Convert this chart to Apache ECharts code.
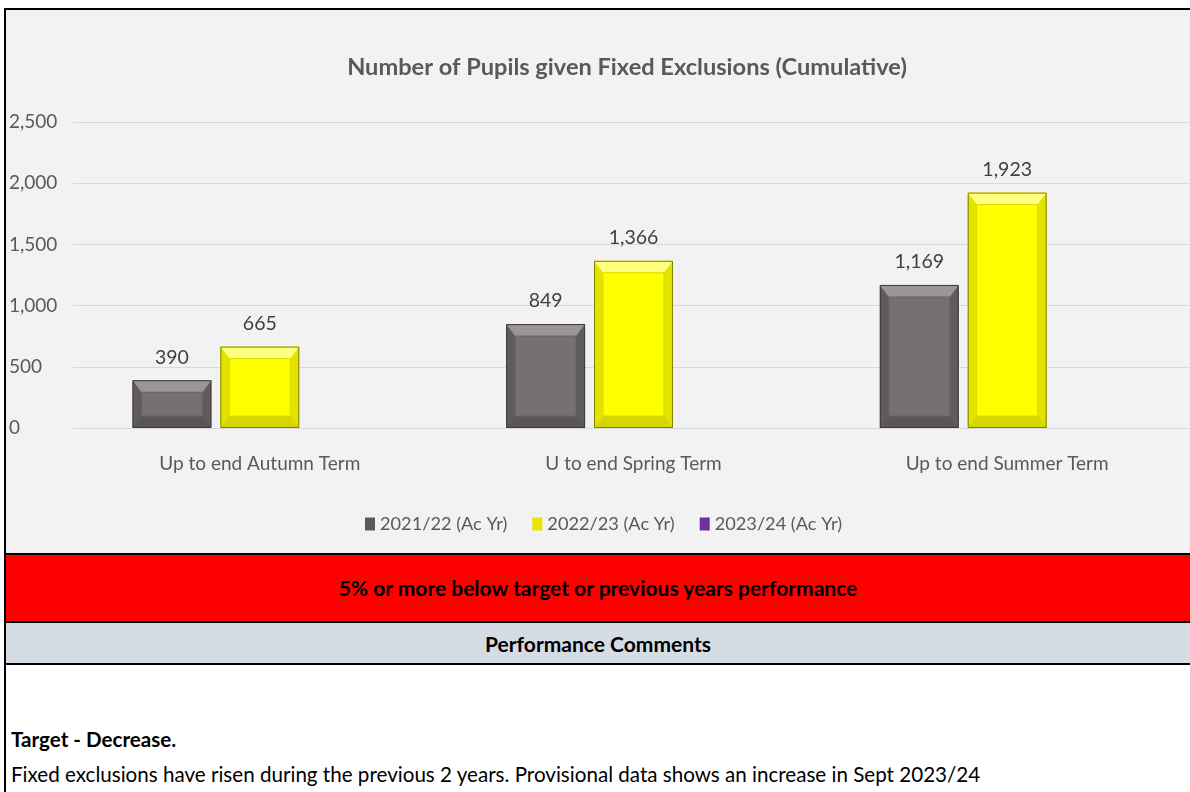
<!DOCTYPE html>
<html>
<head>
<meta charset="utf-8">
<script src="https://cdn.jsdelivr.net/npm/echarts@6/dist/echarts.min.js"></script>
<style>
	body { margin: 0; background: #fff; font-family: Lato, sans-serif; }
	#wrap { position: absolute; left: 4px; top: 8px; width: 1200px; height: 800px; border-left: 2px solid #000; border-top: 2px solid #000; }
	#chart { width: 1190px; height: 543px; background: #f2f2f2; }
	.red { border-top: 2px solid #000; height: 66px; background: #ff0000; color: #000; font-weight: bold; font-size: 21px; line-height: 66px; text-align: center; padding-right: 16px; }
	.grey { border-top: 2px solid #000; border-bottom: 2px solid #000; height: 40px; background: #d6dce4; color: #000; font-weight: bold; font-size: 21px; line-height: 42px; text-align: center; padding-right: 16px; }
	.note { position: absolute; left: 5px; font-size: 20.6px; color: #000; white-space: nowrap; }
</style>
</head>
<body>
<div id="wrap">
	<div id="chart"></div>
	<div class="red">5% or more below target or previous years performance</div>
	<div class="grey">Performance Comments</div>
	<div class="note" style="top:717px;font-weight:bold;">Target - Decrease.</div>
	<div class="note" style="top:752px;">Fixed exclusions have risen during the previous 2 years. Provisional data shows an increase in Sept 2023/24</div>
</div>
<script>
	var categories = ['Up to end Autumn Term', 'U to end Spring Term', 'Up to end Summer Term'];
	var years = ['2021/22 (Ac Yr)', '2022/23 (Ac Yr)', '2023/24 (Ac Yr)'];
	var values2122 = [390, 849, 1169];
	var values2223 = [665, 1366, 1923];
	var values2324 = [];
	var yMax = 2500;
	var yStep = 500;

	var font = 'Lato';
	// 斜面效果的配色
	var palettes = [
		{ edge: '#3b3838', top: '#9a9696', side: '#605c5c', bottom: '#5a5656', face: '#767171', line: '#686464', legend: '#595959' },
		{ edge: '#808000', top: '#ffff80', side: '#e3e300', bottom: '#d6d600', face: '#ffff00', line: '#dada00', legend: '#e6e600' },
		{ edge: '#3d1a58', top: '#a070c8', side: '#5e2888', bottom: '#4a1f6b', face: '#7030a0', line: '#602890', legend: '#7030a0' }
	];

	function toPairs(arr) {
		var out = [];
		for (var i = 0; i < arr.length; i++) out.push([i, arr[i]]);
		return out;
	}

	function makeRender(si) {
		var pal = palettes[si];
		return function (params, api) {
			var cat = api.value(0), v = api.value(1);
			var p0 = api.coord([cat, 0]);
			var p1 = api.coord([cat, v]);
			var band = api.size([1, 0])[0];
			var bw = band * 0.2112, gap = band * 0.024;
			var x = p0[0] - (3 * bw + 2 * gap) / 2 + si * (bw + gap);
			var y = p1[1], h = p0[1] - p1[1];
			var ix = 9, iy = Math.min(12, h / 3);
			return {
				type: 'group',
				children: [
					{ type: 'rect', shape: { x: x, y: y, width: bw, height: h }, style: { fill: pal.side } },
					{ type: 'polygon', shape: { points: [[x, y], [x + bw, y], [x + bw - ix, y + iy], [x + ix, y + iy]] }, style: { fill: pal.top } },
					{ type: 'polygon', shape: { points: [[x, y + h], [x + bw, y + h], [x + bw - ix, y + h - iy], [x + ix, y + h - iy]] }, style: { fill: pal.bottom } },
					{ type: 'rect', shape: { x: x + ix, y: y + iy, width: bw - 2 * ix, height: h - 2 * iy }, style: { fill: pal.face, stroke: pal.line, lineWidth: 1 } },
					{ type: 'rect', shape: { x: x + 0.5, y: y + 0.5, width: bw - 1, height: h - 1 }, style: { fill: null, stroke: pal.edge, lineWidth: 1 } },
					{ type: 'text', x: x + bw / 2, y: y - 13, style: { text: echarts.format.addCommas(v), fill: '#404040', font: '19.5px ' + font, textAlign: 'center', textVerticalAlign: 'bottom' } }
				]
			};
		};
	}

	var seriesData = [values2122, values2223, values2324];
	var series = [];
	for (var s = 0; s < years.length; s++) {
		series.push({
			name: years[s],
			type: 'custom',
			renderItem: makeRender(s),
			itemStyle: { color: palettes[s].legend },
			encode: { x: 0, y: 1 },
			data: toPairs(seriesData[s])
		});
	}

	var chart = echarts.init(document.getElementById('chart'));
	chart.setOption({
		animation: false,
		textStyle: { fontFamily: font },
		title: {
			text: 'Number of Pupils given Fixed Exclusions (Cumulative)',
			left: 616, top: 40, textAlign: 'center',
			textStyle: { fontFamily: font, fontSize: 23.6, fontWeight: 'bold', color: '#595959' }
		},
		legend: {
			data: years,
			left: 354, top: 500,
			icon: 'rect', itemWidth: 10, itemHeight: 13, itemGap: 25,
			textStyle: { fontFamily: font, fontSize: 18.2, color: '#595959' }
		},
		grid: { left: 66, top: 112, width: 1122, height: 306 },
		xAxis: {
			type: 'category',
			data: categories,
			axisLine: { show: false },
			axisTick: { show: false },
			axisLabel: { margin: 26, fontSize: 19, color: '#595959', fontFamily: font }
		},
		yAxis: {
			type: 'value',
			min: 0, max: yMax, interval: yStep,
			axisLine: { show: false },
			axisTick: { show: false },
			splitLine: { lineStyle: { color: '#d9d9d9', width: 1 } },
			axisLabel: {
				align: 'left', margin: 64, fontSize: 19, color: '#595959', fontFamily: font,
				formatter: function (v) { return echarts.format.addCommas(v); }
			}
		},
		series: series
	});
</script>
</body>
</html>
